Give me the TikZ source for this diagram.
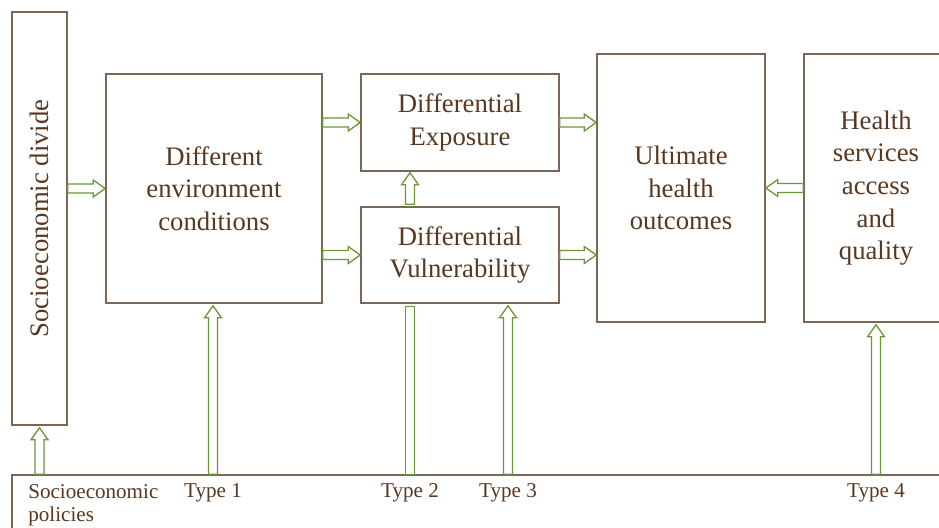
\documentclass[tikz,border=0pt]{standalone}
\usepackage{fontspec}
\setmainfont{Liberation Serif}
\usetikzlibrary{calc,positioning}
\definecolor{boxline}{RGB}{125,102,86}
\definecolor{txtbrown}{RGB}{90,56,32}
\definecolor{arrowgreen}{RGB}{104,152,58}

\begin{document}
\begin{tikzpicture}[
  box/.style={rectangle, draw=boxline, line width=0.9pt, fill=white,
    text=txtbrown, font=\fontsize{15.2}{18.6}\selectfont, align=center, inner sep=0pt},
  lbl/.style={text=txtbrown, font=\fontsize{12}{13.4}\selectfont, inner sep=0pt},
  hollow/.style={draw=arrowgreen, line width=0.75pt, fill=white, line join=miter,
    to path={
      ($(\tikztostart)!0.09cm!90:(\tikztotarget)$)
      -- ($($(\tikztotarget)!0.24cm!(\tikztostart)$)!0.09cm!90:(\tikztotarget)$)
      -- ($($(\tikztotarget)!0.24cm!(\tikztostart)$)!0.17cm!90:(\tikztotarget)$)
      -- (\tikztotarget)
      -- ($($(\tikztotarget)!0.24cm!(\tikztostart)$)!0.17cm!-90:(\tikztotarget)$)
      -- ($($(\tikztotarget)!0.24cm!(\tikztostart)$)!0.09cm!-90:(\tikztotarget)$)
      -- ($(\tikztostart)!0.09cm!-90:(\tikztotarget)$) -- cycle}},
  hollowbar/.style={draw=arrowgreen, line width=0.75pt, fill=white,
    to path={
      ($(\tikztostart)!0.09cm!90:(\tikztotarget)$)
      -- ($(\tikztotarget)!0.09cm!-90:(\tikztostart)$)
      -- ($(\tikztotarget)!0.09cm!90:(\tikztostart)$)
      -- ($(\tikztostart)!0.09cm!-90:(\tikztotarget)$) -- cycle}}
]
\useasboundingbox (0,0) rectangle (18.78,-10.56);
\clip (0,0) rectangle (18.78,-10.56);
% boxes
\node[box, minimum width=1.10cm, minimum height=8.26cm] (divide) at (0.79,-4.37)
  {\rotatebox{90}{Socioeconomic divide}};
\node[box, minimum width=4.32cm, minimum height=4.58cm] (env) at (4.28,-3.77)
  {Different\\environment\\conditions};
\node[box, minimum width=3.96cm, minimum height=1.94cm] (expo) at (9.20,-2.45)
  {Differential\\Exposure};
\node[box, minimum width=3.96cm, minimum height=1.92cm] (vuln) at (9.20,-5.10)
  {Differential\\Vulnerability};
\node[box, minimum width=3.36cm, minimum height=5.36cm] (ult) at (13.62,-3.76)
  {Ultimate\\health\\outcomes};
\node[box, minimum width=2.88cm, minimum height=5.36cm] (health) at (17.52,-3.76)
  {Health\\services\\access\\and\\quality};
\node[box, minimum width=19.26cm, minimum height=1.70cm] (policy) at (9.87,-10.35) {};
% labels in the policy bar
\node[lbl, anchor=north west, align=left] (poltxt) at (0.56,-9.68) {Socioeconomic\\policies};
\node[lbl, anchor=base] (type1) at (4.26,-9.94) {Type 1};
\node[lbl, anchor=base] (type2) at (8.20,-9.94) {Type 2};
\node[lbl, anchor=base] (type3) at (10.16,-9.94) {Type 3};
\node[lbl, anchor=base] (type4) at (17.52,-9.94) {Type 4};
% horizontal arrows
\foreach \a/\b in {divide.east |- env.west/env.west,
                   env.east |- expo.west/expo.west,
                   env.east |- vuln.west/vuln.west,
                   expo.east/expo.east -| ult.west,
                   vuln.east/vuln.east -| ult.west,
                   health.west/health.west -| ult.east}
  {\draw[hollow] (\a) to (\b);}
\draw[hollow] ($(vuln.north -| type2)+(0,0.04)$) to ($(expo.south -| type2)+(0,-0.02)$);
% arrows from the policy bar
\draw[hollow] (policy.north -| divide.south) to ($(divide.south)+(0,-0.04)$);
\foreach \t/\m in {type1/env, type3/vuln, type4/health}
  {\draw[hollow] (policy.north -| \t) to ($(\m.south -| \t)+(0,-0.04)$);}
\draw[hollowbar] (policy.north -| type2) to ($(vuln.south -| type2)+(0,-0.06)$);
\end{tikzpicture}
\end{document}
